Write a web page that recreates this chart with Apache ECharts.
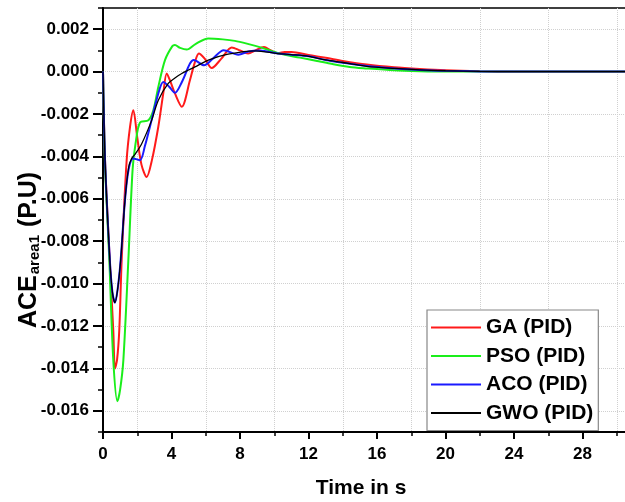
<!DOCTYPE html>
<html>
<head>
<meta charset="utf-8">
<script src="https://cdn.jsdelivr.net/npm/echarts@6/dist/echarts.min.js"></script>
<style>html,body{margin:0;padding:0;background:#fff}#c{width:625px;height:502px}</style>
</head>
<body>
<div id="c"></div>
<script>
// Values in units of 0.001 P.U, time in s
var seriesNames = ['GA (PID)', 'PSO (PID)', 'ACO (PID)', 'GWO (PID)'];
var gaData = [[0,0],[0.12,-4.2],[0.4,-9.0],[0.6,-12.2],[0.7,-14.0],[0.82,-13.6],[0.95,-12.2],[1.09,-8.9],[1.38,-4.2],[1.58,-2.6],[1.77,-1.82],[2.0,-3.1],[2.25,-4.4],[2.55,-4.97],[2.85,-4.2],[3.23,-2.6],[3.52,-1.03],[3.72,-0.09],[3.95,-0.5],[4.2,-1.03],[4.6,-1.66],[5.08,-0.4],[5.35,0.4],[5.6,0.85],[5.95,0.6],[6.35,0.17],[6.9,0.6],[7.52,1.14],[8.0,1.0],[8.47,0.85],[8.9,1.0],[9.4,1.16],[9.8,1.0],[10.2,0.87],[10.6,0.92],[11,0.93],[12,0.78],[13,0.65],[14,0.5],[15.4,0.33],[17,0.2],[18.5,0.12],[20,0.06],[22,0.02],[24,0.005],[26,0],[32,0]];
var psoData = [[0,0],[0.12,-4.4],[0.37,-8.9],[0.6,-13.6],[0.84,-15.55],[1.0,-15.0],[1.19,-13.6],[1.48,-8.9],[1.73,-4.6],[1.9,-3.4],[2.16,-2.4],[2.65,-2.29],[2.94,-1.82],[3.23,-0.72],[3.62,0.54],[4.05,1.2],[4.2,1.25],[4.5,1.12],[4.89,1.04],[5.4,1.3],[6.15,1.56],[7.0,1.52],[7.7,1.45],[8.4,1.32],[9.3,1.12],[10.3,0.85],[11.5,0.66],[12.5,0.5],[13.25,0.38],[14.4,0.22],[15.4,0.15],[17,0.06],[18.5,0.02],[20,0],[32,0]];
var acoData = [[0,0],[0.12,-4.2],[0.4,-8.9],[0.55,-10.4],[0.7,-10.9],[0.85,-10.3],[1.03,-8.9],[1.28,-6.1],[1.5,-4.6],[1.77,-4.1],[2.16,-4.18],[2.45,-3.5],[2.74,-2.6],[3.23,-1.03],[3.52,-0.49],[3.85,-0.7],[4.2,-1.0],[4.6,-0.5],[5.08,0.38],[5.3,0.55],[5.9,0.3],[6.4,0.6],[7.05,1.01],[7.9,0.8],[8.5,0.95],[9.17,0.99],[10.2,0.85],[11,0.8],[12,0.72],[13,0.55],[14,0.42],[15.4,0.26],[17,0.15],[18.5,0.08],[20,0.04],[22,0.01],[24,0],[32,0]];
var gwoData = [[0,0],[0.12,-4.2],[0.4,-8.9],[0.55,-10.4],[0.7,-10.9],[0.85,-10.3],[1.03,-8.9],[1.28,-6.1],[1.5,-4.5],[1.67,-4.1],[1.87,-3.9],[2.26,-3.4],[2.84,-2.3],[3.23,-1.35],[3.81,-0.56],[4.2,-0.3],[4.6,-0.09],[5.37,0.22],[6.15,0.54],[7.3,0.82],[8.9,0.98],[10.2,0.85],[11,0.8],[12,0.72],[13,0.55],[14,0.43],[15.4,0.25],[17,0.15],[18.5,0.08],[20,0.04],[22,0.01],[24,0],[32,0]];
var yTickLabels = [-0.016,-0.014,-0.012,-0.010,-0.008,-0.006,-0.004,-0.002,0.000,0.002];
var colors = ['#ff1a1a', '#1aee1a', '#1a1aff', '#000000'];

function scale(d){ return d.map(function(p){ return [p[0], p[1]/1000]; }); }
var FONT = 'Liberation Sans, Arial, sans-serif';
var chart = echarts.init(document.getElementById('c'));
var dataSets = [gaData, psoData, acoData, gwoData];
var widths = [2, 2, 2, 1.3];
chart.setOption({
  animation: false,
  grid: { left: 103, top: 8, right: -26, bottom: 70, outerBoundsMode: 'none', containLabel: false,
    show: true, borderColor: '#000', borderWidth: 1.5, backgroundColor: 'transparent' },
  xAxis: {
    type: 'value', min: 0, max: 32, interval: 4,
    axisLine: { show: true, onZero: false, lineStyle: { color: '#000', width: 2 } },
    axisTick: { show: true, inside: false, length: 7, lineStyle: { color: '#000', width: 2 } },
    minorTick: { show: true, splitNumber: 2, length: 4, lineStyle: { color: '#000', width: 1.5 } },
    splitLine: { show: false },
    minorSplitLine: { show: true, lineStyle: { color: '#d0d0d0', type: 'dotted', width: 1 } },
    axisLabel: { fontFamily: FONT, fontSize: 17, fontWeight: 'bold', color: '#000', margin: 14 }
  },
  yAxis: [{
    type: 'value', min: -0.017, max: 0.003, interval: 0.002,
    axisLine: { show: true, onZero: false, lineStyle: { color: '#000', width: 2 } },
    axisTick: { show: true, customValues: yTickLabels, length: 10, lineStyle: { color: '#000', width: 2 } },
    splitLine: { show: true, lineStyle: { color: '#d0d0d0', type: 'dotted', width: 1 } },
    axisLabel: { customValues: yTickLabels, fontFamily: FONT, fontSize: 17, fontWeight: 'bold', color: '#000', margin: 14,
      formatter: function(v){ return (Math.abs(v) < 1e-9 ? 0 : v).toFixed(3); } }
  }, {
    type: 'value', min: -0.017, max: 0.003, interval: 0.002, position: 'left',
    axisLine: { show: false, onZero: false },
    axisTick: { show: true, length: 5, lineStyle: { color: '#000', width: 1.5 } },
    splitLine: { show: false },
    axisLabel: { show: false }
  }],
  legend: {
    orient: 'vertical', left: 427, top: 310,
    data: seriesNames,
    backgroundColor: '#fff', borderColor: '#888', borderWidth: 1.2,
    padding: [7, 5, 7, 3], itemGap: 7.5, itemWidth: 50, itemHeight: 14,
    itemStyle: { opacity: 0 },
    textStyle: { fontFamily: FONT, fontSize: 21, fontWeight: 'bold', color: '#000', lineHeight: 20 }
  },
  series: dataSets.map(function(d, i){
    return { name: seriesNames[i], type: 'line', data: scale(d), yAxisIndex: 0, smooth: 0.3,
      symbol: 'none', showSymbol: false, color: colors[i], lineStyle: { color: colors[i], width: widths[i] }, z: 2 + i };
  }),
  graphic: [
    { type: 'text', x: 361, y: 488, style: { text: 'Time in s', font: 'bold 21px ' + FONT, fill: '#000', align: 'center', verticalAlign: 'middle' } },
    { type: 'text', x: 27, y: 250, rotation: Math.PI / 2,
      style: { text: '{a|ACE}{b|area1}{a| (P.U)}', align: 'center', verticalAlign: 'middle', fill: '#000',
        rich: { a: { font: 'bold 25px ' + FONT, fill: '#000', lineHeight: 30, verticalAlign: 'bottom' },
                b: { font: 'bold 15px ' + FONT, fill: '#000', lineHeight: 30, verticalAlign: 'bottom', padding: [9, 1, 0, 1] } } } }
  ]
});
</script>
</body>
</html>
